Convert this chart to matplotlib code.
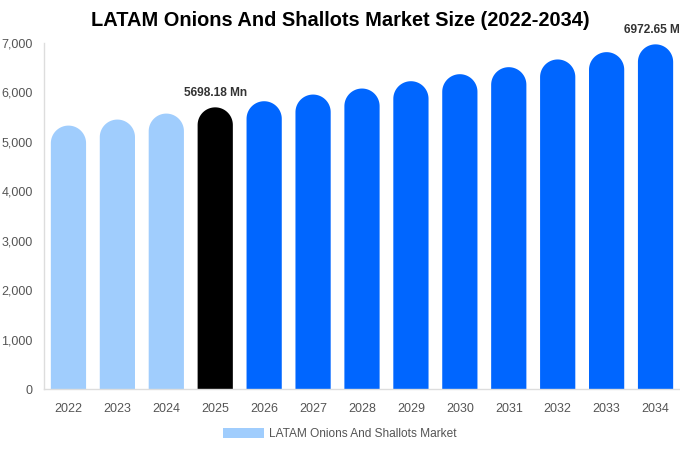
import matplotlib
matplotlib.use("Agg")
import numpy as np
import matplotlib.pyplot as plt
from matplotlib.patches import Polygon, Patch

years = ["2022", "2023", "2024", "2025", "2026", "2027", "2028",
         "2029", "2030", "2031", "2032", "2033", "2034"]
values = [5329, 5451, 5572, 5698.18, 5822, 5957, 6079,
          6227, 6369, 6511, 6667, 6815, 6972.65]
labels = {3: "5698.18 Mn", 12: "6972.65 Mn"}
series_name = "LATAM Onions And Shallots Market"
title = "LATAM Onions And Shallots Market Size (2022-2034)"

LIGHT = "#A0CDFD"
BLACK = "#000000"
BLUE = "#0066FF"

plt.rcParams['font.family'] = ['Liberation Sans', 'DejaVu Sans']

fig = plt.figure(figsize=(6.8, 4.5), dpi=100)
ax = fig.add_axes([44/680, 1-389/450, 636/680, 346/450])
ax.set_xlim(-0.5, len(years) - 0.5)
ax.set_ylim(0, 7000)

ax_w_px = 636
ax_h_px = 346
px_per_x = ax_w_px / len(years)
px_per_y = ax_h_px / 7000

bw = 0.72
r_px = bw * px_per_x / 2
ry = r_px / px_per_y
theta = np.linspace(0, np.pi, 60)

for i, v in enumerate(values):
    c = LIGHT if i < 3 else (BLACK if i == 3 else BLUE)
    cy = v - ry
    arc_x = i + (bw / 2) * np.cos(theta)
    arc_y = cy + ry * np.sin(theta)
    xs = np.concatenate([[i + bw/2], arc_x, [i - bw/2]])
    ys = np.concatenate([[0], arc_y, [0]])
    ax.add_patch(Polygon(np.column_stack([xs, ys]), closed=True,
                         facecolor=c, edgecolor='none'))
    if i in labels:
        ax.annotate(labels[i], (i, v), xytext=(0, 6), textcoords='offset points',
                    ha='center', va='bottom', fontsize=8.6, fontweight='bold',
                    color='#333333', annotation_clip=False)

ax.set_xticks(range(len(years)))
ax.set_xticklabels(years)
ax.set_yticks(range(0, 7001, 1000))
ax.set_yticklabels([f"{t:,}" for t in range(0, 7001, 1000)])
ax.tick_params(axis='both', length=0, labelsize=9, colors='#555555')
ax.tick_params(axis='x', pad=10)
ax.tick_params(axis='y', pad=8)

for s in ['top', 'right']:
    ax.spines[s].set_visible(False)
for s in ['left', 'bottom']:
    ax.spines[s].set_color('#dddddd')
    ax.spines[s].set_linewidth(1)

fig.text(340/680, 1-21/450, title, ha='center', va='center',
         fontsize=14.4, fontweight='bold', color='#000000')

leg = fig.legend(handles=[Patch(facecolor=LIGHT, edgecolor='none', label=series_name)],
                 loc='center', bbox_to_anchor=(340/680, 1-434/450), frameon=False,
                 fontsize=8.6, handlelength=3.4, handleheight=1.0, handletextpad=0.5)
for t in leg.get_texts():
    t.set_color('#555555')

fig.savefig("out.png", dpi=100)
